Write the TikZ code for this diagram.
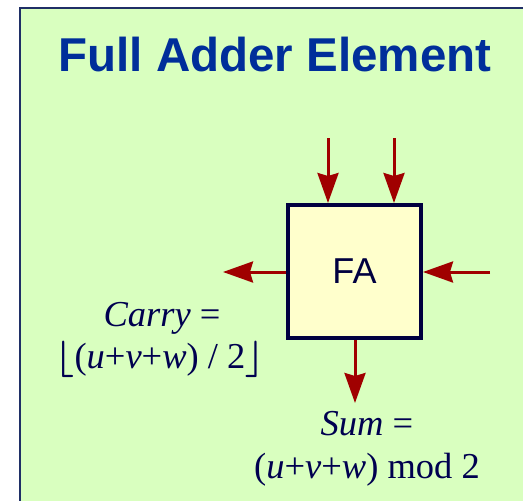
\RequirePackage{fix-cm}
\documentclass[tikz,border=0pt]{standalone}
\usepackage{fontspec}
\setmainfont{Liberation Serif}
\setsansfont{Liberation Sans}
\usepackage{tikz}
\usetikzlibrary{arrows.meta,calc}
\definecolor{zeminYesil}{HTML}{D9FFBF}
\definecolor{cerceveLaci}{HTML}{1F2F66}
\definecolor{baslikMavi}{HTML}{002E9A}
\definecolor{yaziLaci}{HTML}{000050}
\definecolor{kutuSari}{HTML}{FFFFCC}
\definecolor{kutuKenar}{HTML}{000040}
\definecolor{okKirmizi}{HTML}{A00000}

\begin{document}
\begin{tikzpicture}[x=1pt,y=-1pt,
  fakutu/.style={draw=kutuKenar,fill=kutuSari,line width=4pt,
                 minimum width=133pt,minimum height=133pt,inner sep=0pt,
                 font=\sffamily\fontsize{36}{40}\selectfont,text=kutuKenar},
  formul/.style={anchor=base,inner sep=0pt,text=yaziLaci,
                 font=\fontsize{36.5}{43}\selectfont},
  ok/.style={-{Stealth[length=30pt,width=21pt,inset=3pt]},line width=3pt,okKirmizi}]
\useasboundingbox (0,0) rectangle (523,501);
\draw[fill=zeminYesil,draw=cerceveLaci,line width=2.5pt] (20,8) rectangle (540,520);
\node[anchor=base,inner sep=0pt,text=baslikMavi,
      font=\sffamily\bfseries\fontsize{47.5}{52}\selectfont] (baslik) at (275,71) {Full Adder Element};
\node[fakutu] (fa) at (354.5,271.5) {FA};
\coordinate (girisU) at (328,138);
\coordinate (girisV) at (394,138);
\coordinate (girisW) at (490,272);
\coordinate (elde) at (223,272);
\coordinate (toplam) at (355,403);
\draw[ok] (girisU) -- (girisU |- fa.north);
\draw[ok] (girisV) -- (girisV |- fa.north);
\draw[ok] (girisW) -- (fa.east |- girisW);
\draw[ok] (fa.west |- elde) -- (elde);
\draw[ok] (fa.south -| toplam) -- (toplam);
\node[formul] (carryA) at (162,326) {\textit{Carry} =};
\node[formul] (carryB) at (160,368) {{\boldmath$\lfloor$}(\textit{u}+\textit{v}+\textit{w}) / 2{\boldmath$\rfloor$}};
\node[formul] (sumA) at (367,435) {\textit{Sum} =};
\node[formul] (sumB) at (367,478) {(\textit{u}+\textit{v}+\textit{w}) mod 2};
\end{tikzpicture}
\end{document}
